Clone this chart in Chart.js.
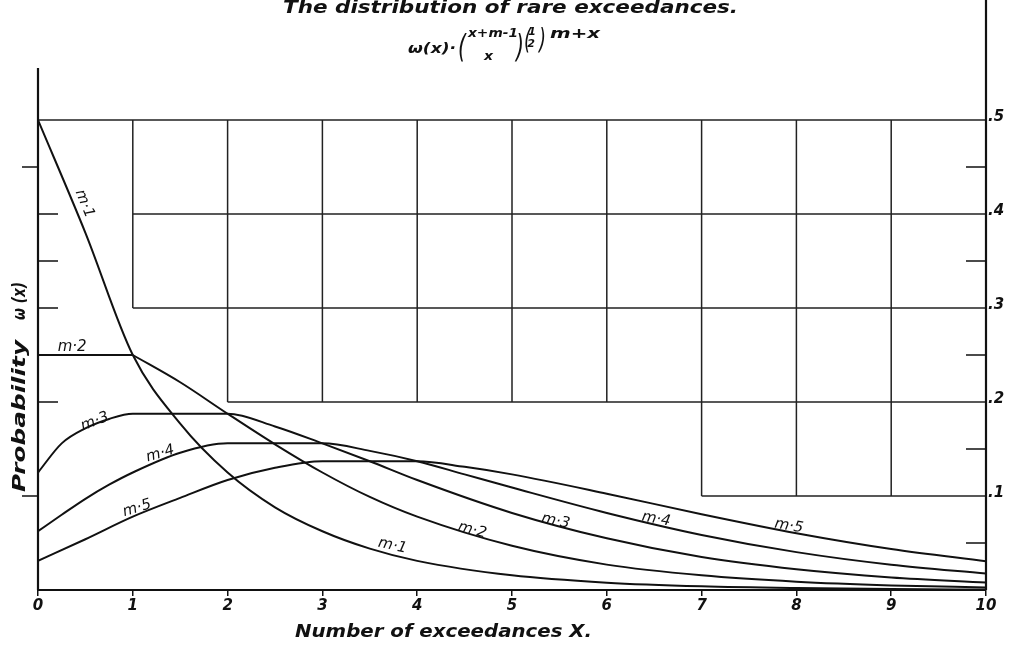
<!DOCTYPE html>
<html>

<head>
    <title>The distribution of rare exceedances</title>
    <script src="https://cdn.jsdelivr.net/npm/chart.js"></script>
    <style>
        body { margin: 0; background: #fff; }
        #wrap { width: 1010px; height: 645px; }
    </style>
</head>

<body>
    <div id="wrap">
        <canvas id="exceedances-chart" width="1010" height="645"></canvas>
    </div>

    <script>
        // values: [x, w(x)]
        const m1 = [[0, .5], [.5, .38], [1, .25], [1.5, .177], [2, .125], [2.5, .088], [3, .0625], [3.5, .044], [4, .031], [5, .0156], [6, .0078], [7, .0039], [8, .002], [9, .001], [10, .0005]];
        const m2 = [[0, .25], [1, .25], [1.5, .221], [2, .1875], [2.5, .155], [3, .125], [3.5, .099], [4, .078], [5, .047], [6, .027], [7, .0156], [8, .0088], [9, .0049], [10, .0027]];
        const m3 = [[0, .125], [.25, .156], [.5, .172], [.75, .182], [1, .1875], [2, .1875], [2.5, .174], [3, .156], [3.5, .137], [4, .117], [5, .082], [6, .055], [7, .035], [8, .022], [9, .0134], [10, .008]];
        const m4 = [[0, .0625], [.25, .08], [.5, .097], [.75, .112], [1, .125], [1.5, .146], [2, .156], [3, .156], [3.5, .148], [4, .137], [4.5, .123], [5, .109], [6, .082], [7, .0586], [8, .0403], [9, .0269], [10, .0175]];
        const m5 = [[0, .031], [.5, .054], [1, .078], [1.5, .098], [2, .117], [2.5, .13], [3, .137], [4, .137], [4.5, .131], [5, .123], [6, .1025], [7, .0806], [8, .0604], [9, .0436], [10, .0305]];

        // the odd stepped grid: horizontal rules [y, fromX, toX], vertical rules [x, fromY, toY]
        const gridRows = [[.5, 0, 10], [.4, 1, 10], [.3, 1, 10], [.2, 2, 10], [.1, 7, 10]];
        const gridCols = [[1, .3, .5], [2, .2, .5], [3, .2, .5], [4, .2, .5], [5, .2, .5], [6, .2, .5], [7, .1, .5], [8, .1, .5], [9, .1, .5]];
        const leftTicksOut = [.45, .1];
        const leftTicksIn = [.4, .35, .3, .2];
        const rightTicksIn = [.45, .35, .25, .15, .05];

        // curve names written along the lines: [text, x, y, angle in degrees]
        const curveLabels = [
            ['m·1', .49, .411, 68], ['m·2', .36, .258, 0], ['m·3', .6, .179, -21],
            ['m·4', 1.29, .145, -16], ['m·5', 1.045, .087, -17],
            ['m·1', 3.74, .047, 12], ['m·2', 4.58, .0636, 15], ['m·3', 5.46, .0732, 12],
            ['m·4', 6.52, .0753, 10], ['m·5', 7.92, .0679, 10]
        ];

        const ink = '#111';
        const face = '"DejaVu Sans", sans-serif';

        function pts(list) {
            return list.map(p => ({ x: p[0], y: p[1] }));
        }

        function curve(data) {
            return {
                data: pts(data),
                borderColor: ink,
                borderWidth: 2,
                pointRadius: 0,
                fill: false,
                cubicInterpolationMode: 'monotone'
            };
        }

        // m=2 has a hard corner at x=1, so draw the flat piece and the tail separately
        const datasets = [
            curve(m1),
            curve(m2.filter(p => p[0] <= 1)),
            curve(m2.filter(p => p[0] >= 1)),
            curve(m3),
            curve(m4),
            curve(m5)
        ];

        // draw text squeezed/stretched to a given width
        function fitText(ctx, text, x, y, width) {
            const w = ctx.measureText(text).width;
            ctx.save();
            ctx.translate(x, y);
            ctx.scale(width / w, 1);
            ctx.textAlign = 'left';
            ctx.fillText(text, 0, 0);
            ctx.restore();
        }

        const paperPlugin = {
            id: 'paper',
            beforeDatasetsDraw(chart) {
                const ctx = chart.ctx;
                const xs = chart.scales.x, ys = chart.scales.y;
                ctx.save();
                ctx.strokeStyle = '#222';
                ctx.lineWidth = 1.5;
                ctx.beginPath();
                gridRows.forEach(r => {
                    const y = ys.getPixelForValue(r[0]);
                    ctx.moveTo(xs.getPixelForValue(r[1]), y);
                    ctx.lineTo(xs.getPixelForValue(r[2]), y);
                });
                gridCols.forEach(c => {
                    const x = xs.getPixelForValue(c[0]);
                    ctx.moveTo(x, ys.getPixelForValue(c[1]));
                    ctx.lineTo(x, ys.getPixelForValue(c[2]));
                });
                ctx.stroke();
                ctx.restore();
            },
            afterDatasetsDraw(chart) {
                const ctx = chart.ctx;
                const { left, right, bottom } = chart.chartArea;
                const xs = chart.scales.x, ys = chart.scales.y;
                ctx.save();
                ctx.strokeStyle = ink;
                ctx.fillStyle = ink;

                // axes (left and right run up past the plot)
                ctx.lineWidth = 2.2;
                ctx.beginPath();
                ctx.moveTo(left, 68); ctx.lineTo(left, bottom);
                ctx.moveTo(right, 0); ctx.lineTo(right, bottom);
                ctx.moveTo(left, bottom); ctx.lineTo(right, bottom);
                ctx.stroke();

                ctx.lineWidth = 1.6;
                ctx.beginPath();
                leftTicksOut.forEach(v => { const y = ys.getPixelForValue(v); ctx.moveTo(left - 16, y); ctx.lineTo(left, y); });
                leftTicksIn.forEach(v => { const y = ys.getPixelForValue(v); ctx.moveTo(left, y); ctx.lineTo(left + 20, y); });
                rightTicksIn.forEach(v => { const y = ys.getPixelForValue(v); ctx.moveTo(right - 20, y); ctx.lineTo(right, y); });
                ctx.stroke();

                // curve names
                ctx.font = 'italic 15px ' + face;
                ctx.textAlign = 'center';
                ctx.textBaseline = 'middle';
                curveLabels.forEach(l => {
                    ctx.save();
                    ctx.translate(xs.getPixelForValue(l[1]), ys.getPixelForValue(l[2]));
                    ctx.rotate(l[3] * Math.PI / 180);
                    ctx.fillText(l[0], 0, 0);
                    ctx.restore();
                });

                // title and formula
                ctx.textBaseline = 'alphabetic';
                ctx.font = 'italic bold 18px ' + face;
                fitText(ctx, 'The distribution of rare exceedances.', 283, 13, 455);

                ctx.font = 'italic bold 14px ' + face;
                fitText(ctx, 'ω(x)·', 408, 53, 48);
                ctx.font = 'italic 32px ' + face;
                fitText(ctx, '(', 458, 57, 8);
                fitText(ctx, ')', 516, 57, 8);
                ctx.font = 'italic bold 13px ' + face;
                fitText(ctx, 'x+m-1', 468, 37, 50);
                fitText(ctx, 'x', 484, 60, 9);
                ctx.font = 'italic 28px ' + face;
                fitText(ctx, '(', 524, 49, 7);
                fitText(ctx, ')', 539, 49, 7);
                ctx.font = 'italic bold 11px ' + face;
                ctx.fillText('1', 532, 35);
                ctx.fillText('2', 531, 47);
                ctx.font = 'italic bold 14px ' + face;
                fitText(ctx, 'm+x', 550, 38, 50);

                // axis titles
                ctx.font = 'italic bold 18px ' + face;
                fitText(ctx, 'Number of exceedances X.', 295, 637, 297);

                ctx.save();
                ctx.translate(25, 492);
                ctx.rotate(-Math.PI / 2);
                fitText(ctx, 'Probability', 0, 0, 152);
                fitText(ctx, 'ω (x)', 172, 0, 38);
                ctx.restore();

                ctx.restore();
            }
        };

        const ctx = document.getElementById('exceedances-chart').getContext('2d');
        new Chart(ctx, {
            type: 'line',
            data: { datasets: datasets },
            options: {
                responsive: false,
                animation: false,
                layout: { padding: { left: 38, top: 120, right: 6, bottom: 29 } },
                plugins: {
                    legend: { display: false },
                    tooltip: { enabled: false }
                },
                scales: {
                    x: {
                        type: 'linear',
                        min: 0,
                        max: 10,
                        grid: { drawOnChartArea: false, tickLength: 6, color: ink, lineWidth: 1.5 },
                        border: { display: false },
                        ticks: {
                            stepSize: 1,
                            maxRotation: 0,
                            padding: 1,
                            color: ink,
                            font: { family: face, style: 'italic', weight: 'bold', size: 15 }
                        }
                    },
                    y: {
                        position: 'right',
                        min: 0,
                        max: 0.5,
                        grid: { display: false, drawTicks: false },
                        border: { display: false },
                        afterFit: scale => { scale.width = 18; },
                        ticks: {
                            stepSize: 0.05,
                            autoSkip: false,
                            padding: 2,
                            labelOffset: -3,
                            color: ink,
                            font: { family: face, style: 'italic', weight: 'bold', size: 15 },
                            callback: v => {
                                const k = Math.round(v * 100);
                                return (k > 0 && k % 10 === 0) ? '.' + (k / 10) : '';
                            }
                        }
                    }
                }
            },
            plugins: [paperPlugin]
        });
    </script>
</body>

</html>
